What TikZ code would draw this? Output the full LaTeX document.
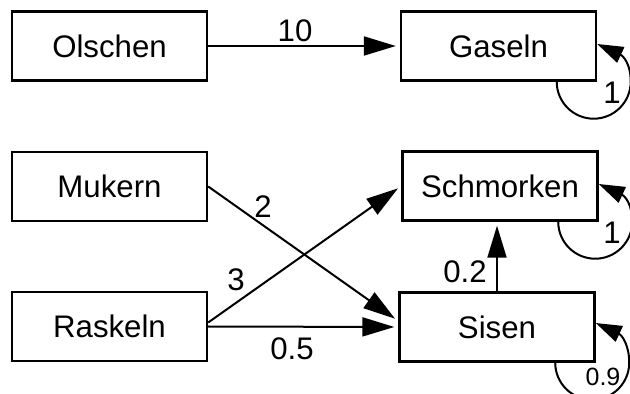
\documentclass[tikz,border=0pt]{standalone}
\usepackage{fontspec}
\setmainfont{Liberation Sans}
\usetikzlibrary{arrows.meta}
\begin{document}
\begin{tikzpicture}[x=0.5pt,y=-0.5pt,
  box/.style={draw, line width=1.2pt, minimum width=97.5pt, minimum height=34.5pt, inner sep=0pt, font=\fontsize{15.6}{18}\selectfont},
  lbl/.style={inner sep=0pt, font=\fontsize{15.6}{18}\selectfont},
  smalllbl/.style={inner sep=0pt, font=\fontsize{12.5}{14}\selectfont},
  conn/.style={line width=1pt, -{Triangle[length=16pt,width=9.5pt]}, shorten >=2pt},
  loopconn/.style={line width=1pt, -{Triangle[length=13pt,width=8.5pt]}}]
\useasboundingbox (0,0) rectangle (630,394);
\node[box] (olschen) at (109.5,46) {Olschen};
\node[box] (gaseln) at (498.5,46) {Gaseln};
\node[box] (mukern) at (109.5,186.5) {Mukern};
\node[box] (schmorken) at (500,186) {Schmorken};
\node[box] (raskeln) at (109.5,326.5) {Raskeln};
\node[box] (sisen) at (497,327) {Sisen};

\draw[conn] (olschen.east) -- (gaseln.west);
\draw[conn] (mukern.east) -- ([yshift=3pt]sisen.west);
\draw[conn] ([yshift=2pt]raskeln.east) -- (schmorken.west);
\draw[conn] (raskeln.east) -- (sisen.west);
\draw[conn] (sisen.north) -- (sisen.north |- schmorken.south);

\draw[loopconn] ([xshift=-20.25pt]gaseln.south east) arc[start angle=180, end angle=360, radius=18.5pt] .. controls +(0,-18) and +(26,12) .. ([yshift=1pt]gaseln.east);
\draw[loopconn] ([xshift=-20.25pt]schmorken.south east) arc[start angle=180, end angle=360, radius=18.5pt] .. controls +(0,-18) and +(26,12) .. ([yshift=1pt]schmorken.east);
\draw[loopconn] ([xshift=-20.25pt]sisen.south east) arc[start angle=180, end angle=360, radius=18.5pt] .. controls +(0,-18) and +(26,12) .. ([yshift=2pt]sisen.east);

\node[lbl] (l10) at (295,31) {10};
\node[lbl] (l2) at (263,207) {2};
\node[lbl] (l3) at (236,280) {3};
\node[lbl] (l05) at (292,349) {0.5};
\node[lbl] (l02) at (465,272) {0.2};
\node[lbl] (lg) at (612,93) {1};
\node[lbl] (ls) at (612,233) {1};
\node[smalllbl] (lsi) at (603,377) {0.9};
\end{tikzpicture}
\end{document}
